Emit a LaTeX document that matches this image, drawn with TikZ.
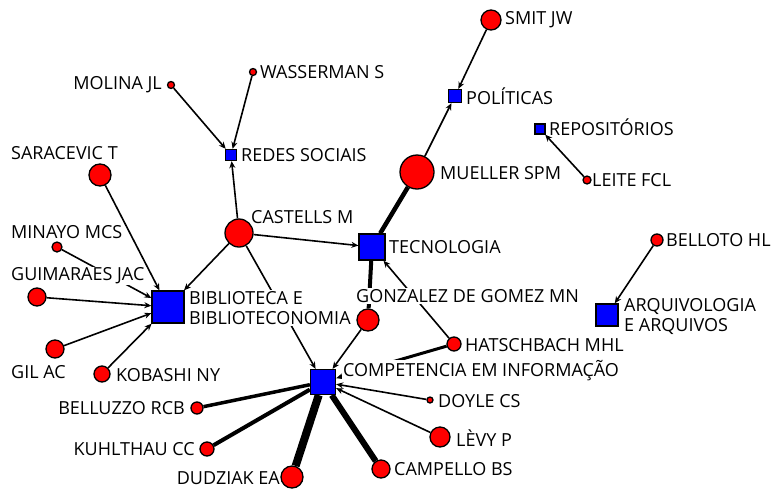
\documentclass[tikz,border=0pt]{standalone}
\usepackage{fontspec}
\setmainfont{Open Sans}
\usetikzlibrary{arrows.meta}
\pgfdeclarelayer{bg}
\pgfdeclarelayer{fg}
\pgfsetlayers{bg,main,fg}
\begin{document}
\begin{tikzpicture}[x=1pt,y=-1pt,
  au/.style={circle,draw=black,line width=1.3pt,fill=red,inner sep=0pt,minimum size=#1},
  tp/.style={rectangle,draw=black,line width=1.3pt,fill=blue,inner sep=0pt,minimum size=#1},
  lb/.style={fill=white,inner sep=1pt,font=\fontsize{18}{20}\selectfont,align=left,text=black},
  lw/.style={lb,anchor=west},
  le/.style={lb,anchor=east},
  ed/.style={line width=#1,draw=black},
  ar/.style={line width=#1,draw=black,-{Stealth[length=7pt,width=6pt]}}]
\useasboundingbox (0,0) rectangle (783,490);
\begin{pgfonlayer}{fg}
\node[au=20pt] (smit) at (491,20) {};
\node[tp=13pt] (pol) at (455,96) {};
\node[tp=10pt] (rep) at (540,129) {};
\node[au=34pt] (mue) at (417,172) {};
\node[au=8pt] (lei) at (587,180) {};
\node[au=7pt] (was) at (253,72) {};
\node[au=7pt] (mol) at (171,85) {};
\node[tp=11pt] (red) at (231,155) {};
\node[au=22pt] (sar) at (100,175) {};
\node[au=28pt] (cas) at (239,233) {};
\node[tp=26pt] (tec) at (372,247) {};
\node[au=10pt] (min) at (57,247) {};
\node[au=18pt] (gui) at (37,297) {};
\node[tp=32pt] (bib) at (168,307) {};
\node[au=22pt] (gon) at (368,320) {};
\node[au=14pt] (hat) at (454,344) {};
\node[au=12pt] (bel) at (657,240) {};
\node[tp=22pt] (arq) at (607,315) {};
\node[au=18pt] (gil) at (55,349) {};
\node[au=16pt] (kob) at (102,374) {};
\node[tp=25pt] (com) at (323,382) {};
\node[au=12pt] (blz) at (197,408) {};
\node[au=6pt] (doy) at (430,400) {};
\node[au=14pt] (kuh) at (207,449) {};
\node[au=20pt] (lev) at (440,437) {};
\node[au=22pt] (dud) at (292,477) {};
\node[au=18pt] (cam) at (381,469) {};
\end{pgfonlayer}
\begin{pgfonlayer}{bg}
\draw[ar=1.6pt] (smit) -- (pol);
\draw[ar=1.6pt] (mue) -- (pol);
\draw[ed=4.5pt] (mue) -- (tec);
\draw[ar=1.6pt] (lei) -- (rep);
\draw[ar=1.6pt] (was) -- (red);
\draw[ar=1.6pt] (mol) -- (red);
\draw[ar=1.6pt] (cas) -- (red);
\draw[ar=1.6pt] (cas) -- (tec);
\draw[ar=1.6pt] (cas) -- (bib);
\draw[ar=1.6pt] (cas) -- (com);
\draw[ar=1.6pt] (sar) -- (bib);
\draw[ar=1.6pt] (min) -- (bib);
\draw[ar=1.6pt] (gui) -- (bib);
\draw[ar=1.6pt] (gil) -- (bib);
\draw[ar=1.6pt] (kob) -- (bib);
\draw[ed=4pt] (gon) -- (tec);
\draw[ar=1.6pt] (gon) -- (com);
\draw[ar=1.6pt] (hat) -- (tec);
\draw[ar=3pt] (hat) -- (com);
\draw[ar=1.6pt] (bel) -- (arq);
\draw[ed=3.5pt] (blz) -- (com);
\draw[ed=4pt] (kuh) -- (com);
\draw[ed=8pt] (dud) -- (com);
\draw[ed=6pt] (cam) -- (com);
\draw[ar=1.6pt] (doy) -- (com);
\draw[ar=1.6pt] (lev) -- (com);
\end{pgfonlayer}
\node[lw] (lsmit) at (504,20) {SMIT JW};
\node[lw] (lpol) at (465,96) {POLÍTICAS};
\node[lw] (lrep) at (548,127) {REPOSITÓRIOS};
\node[lw] (lmue) at (439,173) {MUELLER SPM};
\node[lw] (llei) at (591,180) {LEITE FCL};
\node[lw] (lwas) at (259,72) {WASSERMAN S};
\node[le] (lmol) at (163,85) {MOLINA JL};
\node[lw] (lred) at (240,155) {REDES SOCIAIS};
\node[lw] (lsar) at (10,153) {SARACEVIC T};
\node[lw] (lcas) at (250,217) {CASTELLS M};
\node[lw] (ltec) at (388,247) {TECNOLOGIA};
\node[lw] (lmin) at (10,232) {MINAYO MCS};
\node[lw] (lgui) at (10,276) {GUIMARAES JAC};
\node[lw] (lbib) at (188,308) {BIBLIOTECA E\\BIBLIOTECONOMIA};
\node[lw] (lgon) at (355,296) {GONZALEZ DE GOMEZ MN};
\node[lw] (lhat) at (464,345) {HATSCHBACH MHL};
\node[lw] (lbel) at (665,240) {BELLOTO HL};
\node[lw] (larq) at (623,316) {ARQUIVOLOGIA\\E ARQUIVOS};
\node[lw] (lgil) at (10,372) {GIL AC};
\node[lw] (lkob) at (115,375) {KOBASHI NY};
\node[lw] (lcom) at (342,371) {COMPETENCIA EM INFORMAÇÃO};
\node[le] (lblz) at (186,408) {BELLUZZO RCB};
\node[lw] (ldoy) at (437,401) {DOYLE CS};
\node[le] (lkuh) at (196,449) {KUHLTHAU CC};
\node[lw] (llev) at (455,438) {LÈVY P};
\node[le,inner sep=0pt] (ldud) at (280,478) {DUDZIAK EA};
\node[lw] (lcam) at (393,469) {CAMPELLO BS};
\end{tikzpicture}
\end{document}
